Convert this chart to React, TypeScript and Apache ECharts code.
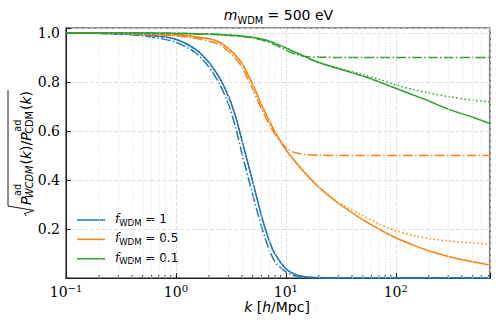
import React, { useEffect, useRef } from 'react';
import * as echarts from 'echarts';

// k grid [h/Mpc]
const K = [0.1, 0.2, 0.3, 0.5, 0.7, 1, 1.5, 2, 2.5, 3, 3.5, 4, 5, 6, 7, 8, 10, 12, 15, 20, 30, 50, 70, 100, 150, 200, 300, 500, 720];

// f_WDM = 1
const blueSolid = [1.0, 0.999, 0.997, 0.993, 0.986, 0.974, 0.934, 0.879, 0.815, 0.742, 0.657, 0.559, 0.393, 0.254, 0.157, 0.096, 0.038, 0.016, 0.005, 0.001, 0, 0, 0, 0, 0, 0, 0, 0, 0];
const blueDashDot = [1.0, 0.998, 0.995, 0.988, 0.978, 0.962, 0.92, 0.86, 0.79, 0.71, 0.612, 0.505, 0.34, 0.21, 0.12, 0.065, 0.025, 0.009, 0.002, 0, 0, 0, 0, 0, 0, 0, 0, 0, 0];
const blueDotted = [1.0, 0.999, 0.997, 0.993, 0.986, 0.974, 0.934, 0.879, 0.815, 0.742, 0.657, 0.559, 0.393, 0.254, 0.157, 0.096, 0.038, 0.016, 0.005, 0.001, 0, 0, 0, 0, 0, 0, 0, 0, 0];

// f_WDM = 0.5
const orangeSolid = [1.0, 0.9995, 0.999, 0.997, 0.995, 0.992, 0.984, 0.976, 0.962, 0.936, 0.908, 0.875, 0.79, 0.707, 0.645, 0.594, 0.524, 0.478, 0.427, 0.37, 0.305, 0.238, 0.2, 0.164, 0.131, 0.111, 0.088, 0.066, 0.053];
const orangeDashDot = [1.0, 0.999, 0.998, 0.995, 0.991, 0.988, 0.978, 0.966, 0.952, 0.925, 0.895, 0.86, 0.77, 0.69, 0.63, 0.585, 0.532, 0.512, 0.504, 0.501, 0.5, 0.5, 0.5, 0.5, 0.5, 0.5, 0.5, 0.5, 0.5];
const orangeDotted = [1.0, 0.9995, 0.999, 0.997, 0.995, 0.992, 0.984, 0.976, 0.962, 0.936, 0.908, 0.875, 0.79, 0.707, 0.645, 0.594, 0.524, 0.478, 0.428, 0.371, 0.309, 0.255, 0.222, 0.193, 0.172, 0.161, 0.151, 0.143, 0.138];

// f_WDM = 0.1
const greenSolid = [1.0, 1.0, 1.0, 0.9995, 0.999, 0.998, 0.997, 0.995, 0.993, 0.991, 0.989, 0.987, 0.982, 0.975, 0.967, 0.957, 0.939, 0.922, 0.903, 0.879, 0.855, 0.824, 0.801, 0.774, 0.744, 0.722, 0.689, 0.656, 0.63];
const greenDashDot = [1.0, 1.0, 1.0, 0.9995, 0.999, 0.998, 0.996, 0.994, 0.992, 0.99, 0.988, 0.985, 0.979, 0.971, 0.962, 0.951, 0.93, 0.914, 0.904, 0.901, 0.9, 0.9, 0.9, 0.9, 0.9, 0.9, 0.9, 0.9, 0.9];
const greenDotted = [1.0, 1.0, 1.0, 0.9995, 0.999, 0.998, 0.997, 0.995, 0.993, 0.991, 0.989, 0.987, 0.982, 0.975, 0.967, 0.957, 0.939, 0.922, 0.903, 0.879, 0.856, 0.83, 0.811, 0.788, 0.767, 0.755, 0.74, 0.726, 0.718];

// minor tick positions on the log axis
const MINOR_K = [0.2, 0.3, 0.4, 0.5, 0.6, 0.7, 0.8, 0.9, 2, 3, 4, 5, 6, 7, 8, 9, 20, 30, 40, 50, 60, 70, 80, 90, 200, 300, 400, 500, 600, 700];

const Y_TICKS = [0.2, 0.4, 0.6, 0.8, 1.0];

const LEGEND_NAMES = ['f1', 'f05', 'f01'];
const LEGEND_VALUES = ['1', '0.5', '0.1'];

const BLUE = '#1f77b4';
const ORANGE = '#ff7f0e';
const GREEN = '#2ca02c';
const DASHDOT = [9.6, 2.4, 1.5, 2.4];
const DOTTED = [1.5, 2.5];
const SANS = 'DejaVu Sans';
const SERIF = 'DejaVu Serif';

const pair = (arr: number[]) => K.map((k, i) => [k, arr[i]]);

function buildYLabel() {
  const canvas = document.createElement('canvas');
  const ctx = canvas.getContext('2d')!;
  const tw = (t: string, fs: number, italic: boolean) => {
    ctx.font = `${italic ? 'italic ' : ''}${fs}px "${SANS}"`;
    return ctx.measureText(t).width;
  };
  const FS = 14;
  const SS = 9.8;
  const children: any[] = [];
  const add = (t: string, x: number, base: number, fs: number, italic: boolean) => {
    children.push({
      type: 'text',
      x,
      y: base - 0.35 * fs,
      style: {
        text: t,
        fontSize: fs,
        fontFamily: SANS,
        fontStyle: italic ? 'italic' : 'normal',
        fill: '#000',
        align: 'left',
        verticalAlign: 'middle',
      },
    });
    return tw(t, fs, italic);
  };
  let cur = 11;
  cur += add('P', cur, 0, FS, true);
  let supEnd = cur + 0.5 + add('ad', cur + 0.5, -10, SS, false);
  let subEnd = cur - 1.5 + add('WCDM', cur - 1.5, 2, SS, true);
  cur = Math.max(supEnd, subEnd) + 1;
  cur += add('(', cur, 0, FS, false);
  cur += add('k', cur, 0, FS, true);
  cur += add(')', cur, 0, FS, false);
  cur += add('/', cur, 0, FS, false);
  cur += add('P', cur, 0, FS, true);
  supEnd = cur + 0.5 + add('ad', cur + 0.5, -10, SS, false);
  subEnd = cur - 1.5 + add('CDM', cur - 1.5, 2, SS, false);
  cur = Math.max(supEnd, subEnd) + 1;
  cur += add('(', cur, 0, FS, false);
  cur += add('k', cur, 0, FS, true);
  cur += add(')', cur, 0, FS, false);
  const end = cur + 1;
  children.push({
    type: 'polyline',
    shape: { points: [[0, -5], [2.5, -6.5], [5.5, 3], [10, -23], [end, -23]] },
    style: { stroke: '#000', lineWidth: 0.9, fill: null },
  });
  return {
    type: 'group',
    x: 31,
    y: 153 + end / 2,
    rotation: Math.PI / 2,
    children,
  };
}

export default function App() {
  const ref = useRef<HTMLDivElement>(null);
  useEffect(() => {
    if (!ref.current) return;
    const chart = echarts.init(ref.current, null, { renderer: 'svg' });

    const lineSeries = (name: string, arr: number[], color: string, type: any, z: number) => ({
      name,
      type: 'line',
      data: pair(arr),
      showSymbol: false,
      symbol: 'none',
      smooth: 0.3,
      lineStyle: { color, width: 1.5, type },
      itemStyle: { color },
      z,
      silent: true,
    });

    const legendRich = {
      f: { fontStyle: 'italic', fontSize: 12, fontFamily: SANS, lineHeight: 12, verticalAlign: 'top', color: '#000', padding: [0, 0, 0, 5] },
      s: { fontSize: 8.5, fontFamily: SANS, lineHeight: 14, verticalAlign: 'bottom', color: '#000' },
      t: { fontSize: 12, fontFamily: SANS, lineHeight: 12, verticalAlign: 'top', color: '#000' },
    };

    const option: any = {
      animation: false,
      grid: { left: 66, right: 9, top: 28, bottom: 50, show: true, borderColor: '#222', borderWidth: 1.1, backgroundColor: 'transparent' },
      legend: {
        data: LEGEND_NAMES,
        orient: 'vertical',
        left: 77,
        top: 213,
        padding: 0,
        itemGap: 5.4,
        itemWidth: 28,
        itemHeight: 1.5,
        icon: 'rect',
        formatter: (name: string) => {
          const i = LEGEND_NAMES.indexOf(name);
          return `{f|f}{s|WDM}{t| = ${LEGEND_VALUES[i]}}`;
        },
        textStyle: { rich: legendRich },
      },
      xAxis: {
        type: 'log',
        logBase: 10,
        min: 0.1,
        max: 720,
        axisLine: { lineStyle: { color: '#222', width: 1.1 } },
        axisTick: { inside: true, length: 5, lineStyle: { color: '#222', width: 1.1 } },
        axisLabel: {
          margin: 5,
          formatter: (v: number) => {
            const l = Math.log10(v);
            const e = Math.round(l);
            if (Math.abs(l - e) > 1e-6) return '';
            return `{b|10}{s|${e < 0 ? '\u2212' + -e : e}}`;
          },
          rich: {
            b: { fontSize: 14, fontFamily: SERIF, lineHeight: 16, verticalAlign: 'bottom', color: '#000' },
            s: { fontSize: 10, fontFamily: SERIF, lineHeight: 10, verticalAlign: 'top', color: '#000' },
          },
        },
        splitLine: { show: true, lineStyle: { color: '#d8d8d8', type: [4, 2], width: 0.8 } },
      },
      yAxis: {
        type: 'value',
        min: 0,
        max: 1.02,
        interval: 0.2,
        axisLine: { show: true, lineStyle: { color: '#222', width: 1.1 } },
        axisTick: { show: true, inside: true, length: 5, lineStyle: { color: '#222', width: 1.1 } },
        axisLabel: {
          margin: 6,
          fontSize: 14,
          fontFamily: SERIF,
          color: '#000',
          formatter: (v: number) => {
            const hit = Y_TICKS.find((t) => Math.abs(t - v) < 1e-6);
            return hit !== undefined ? hit.toFixed(1) : '';
          },
        },
        splitLine: { show: true, lineStyle: { color: '#d8d8d8', type: [4, 2], width: 0.8 } },
      },
      series: [
        {
          name: 'minorGrid',
          type: 'scatter',
          data: MINOR_K.map((k) => [k, 0]),
          symbol: 'rect',
          symbolSize: [1.1, 3],
          symbolOffset: [0, -1.5],
          itemStyle: { color: '#222' },
          clip: false,
          silent: true,
          z: 1,
          markLine: {
            silent: true,
            symbol: ['none', 'none'],
            label: { show: false },
            lineStyle: { color: '#e2e2e2', type: [1.5, 1.5], width: 0.8 },
            data: MINOR_K.map((k) => ({ xAxis: k })),
          },
        },
        lineSeries('f1', blueSolid, BLUE, 'solid', 3),
        lineSeries('f1dd', blueDashDot, BLUE, DASHDOT, 3),
        lineSeries('f1dot', blueDotted, BLUE, DOTTED, 3),
        lineSeries('f05', orangeSolid, ORANGE, 'solid', 3),
        lineSeries('f05dd', orangeDashDot, ORANGE, DASHDOT, 3),
        lineSeries('f05dot', orangeDotted, ORANGE, DOTTED, 3),
        lineSeries('f01', greenSolid, GREEN, 'solid', 3),
        lineSeries('f01dd', greenDashDot, GREEN, DASHDOT, 3),
        lineSeries('f01dot', greenDotted, GREEN, DOTTED, 3),
      ],
      graphic: [
        {
          type: 'text',
          x: 278.5,
          y: 16.6,
          style: {
            text: '{m|m}{s|WDM}{t| = 500 eV}',
            align: 'center',
            verticalAlign: 'middle',
            rich: {
              m: { fontStyle: 'italic', fontSize: 14, fontFamily: SANS, lineHeight: 14, verticalAlign: 'top', fill: '#000' },
              s: { fontSize: 9.8, fontFamily: SANS, lineHeight: 17, verticalAlign: 'bottom', fill: '#000' },
              t: { fontSize: 14, fontFamily: SANS, lineHeight: 14, verticalAlign: 'top', fill: '#000' },
            },
          },
        },
        {
          type: 'text',
          x: 277,
          y: 307,
          style: {
            text: '{i|k}{r| [}{i|h}{r|/Mpc]}',
            align: 'center',
            verticalAlign: 'middle',
            rich: {
              i: { fontStyle: 'italic', fontSize: 14, fontFamily: SANS, fill: '#000' },
              r: { fontSize: 14, fontFamily: SANS, fill: '#000' },
            },
          },
        },
        buildYLabel(),
      ],
    };
    chart.setOption(option);
    return () => chart.dispose();
  }, []);
  return <div ref={ref} style={{ width: 499, height: 328, position: 'absolute', left: 0, top: 0 }} />;
}
